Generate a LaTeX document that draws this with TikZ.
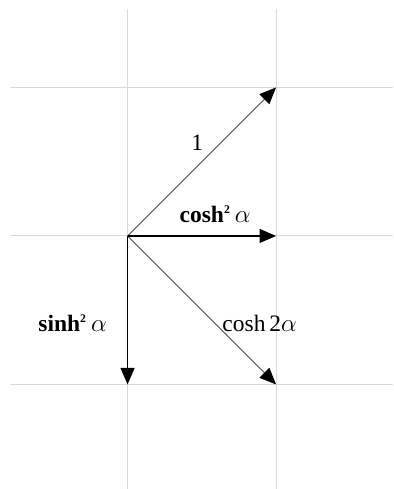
\documentclass[tikz,border=0pt]{standalone}
\usepackage{fontspec}
\setmainfont{Liberation Serif}
\usetikzlibrary{arrows.meta,positioning}

\begin{document}
\begin{tikzpicture}[
  x=3cm, y=3cm,
  gridline/.style={gray!30, line width=0.6pt},
  vec/.style={-{Triangle[length=9.5pt,width=8pt,black]}, line width=0.9pt},
  thinvec/.style={-{Triangle[length=9.5pt,width=8pt,black]}, gray!75!black, line width=0.6pt},
  vlabel/.style={font=\fontsize{13.5}{15}\selectfont, inner sep=1pt},
]
\useasboundingbox (-0.859,-1.704) rectangle (1.788,1.589);
% background grid
\foreach \y in {-1,0,1}{
  \draw[gridline] (-0.791,\y) -- (1.788,\y);
}
\foreach \x in {0,1}{
  \draw[gridline] (\x,-1.704) -- (\x,1.529);
}
% origin and arrow tips
\coordinate (o)    at (0,0);
\coordinate (one)  at (1,1);
\coordinate (ch)   at (1,0);
\coordinate (sh)   at (0,-1);
\coordinate (ch2)  at (1,-1);
% vectors
\draw[thinvec] (o) -- (one);
\draw[thinvec] (o) -- (ch2);
\draw[vec] (o) -- (ch);
\draw[vec] (o) -- (sh);
% labels
\node[vlabel] (lone) at (0.47,0.63) {1};
\node[vlabel] (lch)  at (0.59,0.145) {\textbf{cosh}$^{\scriptscriptstyle\mathbf{2}}\,\alpha$};
\node[vlabel] (lsh)  at (-0.37,-0.59) {\textbf{sinh}$^{\scriptscriptstyle\mathbf{2}}\,\alpha$};
\node[vlabel] (lch2) at (0.89,-0.59) {cosh\,2$\alpha$};
\end{tikzpicture}
\end{document}
